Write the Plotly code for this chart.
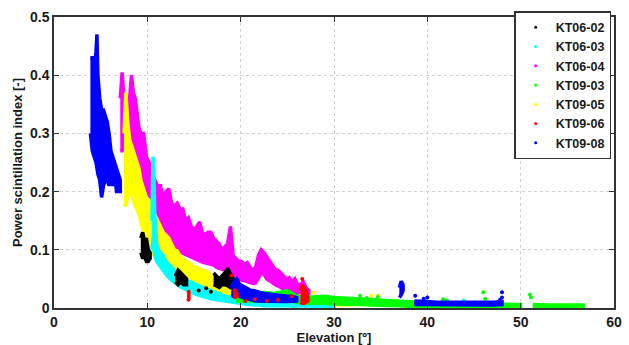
import plotly.graph_objects as go

# ---------------- data ----------------
series_names = ["KT06-02", "KT06-03", "KT06-04", "KT09-03", "KT09-05", "KT09-06", "KT09-08"]
series_colors = ["#000000", "#00FFFF", "#FF00FF", "#00FF00", "#FFFF00", "#FF0000", "#0000FF"]

# KT06-04 (magenta) dense band
kt0604_x = [7.1, 7.3, 7.5, 7.7, 7.9, 8.1, 8.3, 8.5, 8.7, 8.9, 9.1, 9.3, 9.6, 9.9, 10.2, 10.5, 10.8, 11.1, 11.4, 11.7,
            12.0, 12.3, 12.6, 12.9, 13.2, 13.5, 13.8, 14.1, 14.4, 14.7, 15.0, 15.3, 15.6, 15.9, 16.2, 16.5, 16.8, 17.1,
            17.4, 17.7, 18.0, 18.3, 18.6, 18.9, 19.2, 19.5, 19.8, 20.1, 20.4, 20.7, 21.0, 21.3, 21.6, 21.9, 22.2, 22.5,
            22.8, 23.1, 23.4, 23.7, 24.0, 24.3, 24.6, 24.9, 25.2, 25.5, 25.8, 26.1, 26.4, 26.7, 27.0, 27.3]
kt0604_hi = [0.36, 0.405, 0.36, 0.33, 0.35, 0.36, 0.40, 0.37, 0.36, 0.33, 0.31, 0.30, 0.30, 0.26, 0.25, 0.23, 0.22, 0.21,
             0.21, 0.19, 0.20, 0.205, 0.18, 0.175, 0.18, 0.17, 0.17, 0.15, 0.155, 0.14, 0.135, 0.14, 0.148, 0.13, 0.125,
             0.13, 0.13, 0.12, 0.115, 0.11, 0.10, 0.105, 0.11, 0.14, 0.09, 0.085, 0.08, 0.08, 0.075, 0.078, 0.07, 0.065,
             0.07, 0.09, 0.10, 0.095, 0.088, 0.08, 0.072, 0.066, 0.065, 0.06, 0.055, 0.05, 0.052, 0.045, 0.05, 0.04,
             0.04, 0.045, 0.035, 0.03]
kt0604_lo = [0.27, 0.27, 0.28, 0.28, 0.28, 0.27, 0.27, 0.27, 0.26, 0.25, 0.24, 0.23, 0.215, 0.20, 0.185, 0.165, 0.15,
             0.14, 0.13, 0.125, 0.12, 0.115, 0.11, 0.105, 0.10, 0.097, 0.094, 0.092, 0.09, 0.087, 0.085, 0.083, 0.081,
             0.079, 0.077, 0.076, 0.075, 0.074, 0.07, 0.068, 0.066, 0.065, 0.063, 0.06, 0.056, 0.053, 0.05, 0.048, 0.047,
             0.045, 0.044, 0.042, 0.043, 0.05, 0.06, 0.058, 0.05, 0.047, 0.044, 0.04, 0.038, 0.036, 0.033, 0.03, 0.03,
             0.027, 0.025, 0.025, 0.028, 0.03, 0.025, 0.02]

# KT09-05 (yellow) dense band
kt0905_x = [7.5, 7.7, 7.9, 8.1, 8.3, 8.5, 8.7, 8.9, 9.1, 9.3, 9.5, 9.7, 9.9, 10.2, 10.5, 10.8, 11.1, 11.4, 11.7, 12.0,
            12.3, 12.6, 12.9, 13.2, 13.5, 13.8, 14.1, 14.4, 14.7, 15.0, 15.3, 15.6, 15.9, 16.2, 16.5, 16.8, 17.1, 17.4,
            17.7, 18.0, 18.5, 19.0, 19.5, 20.0, 20.5, 21.0, 21.5, 22.0, 22.5, 23.0, 23.5, 24.0, 24.5, 25.0, 25.5, 26.0,
            26.5, 27.0, 27.5, 28.0, 28.5, 29.0, 29.5, 30.0, 30.5, 31.0, 31.5, 32.0]
kt0905_hi = [0.30, 0.37, 0.32, 0.29, 0.28, 0.27, 0.26, 0.25, 0.24, 0.22, 0.21, 0.20, 0.19, 0.185, 0.17, 0.16, 0.15, 0.14,
             0.13, 0.125, 0.12, 0.11, 0.10, 0.098, 0.09, 0.085, 0.08, 0.078, 0.075, 0.07, 0.07, 0.067, 0.065, 0.064, 0.062,
             0.055, 0.05, 0.047, 0.045, 0.042, 0.038, 0.035, 0.032, 0.03, 0.028, 0.026, 0.024, 0.022, 0.022, 0.02, 0.02,
             0.018, 0.018, 0.017, 0.017, 0.018, 0.02, 0.02, 0.018, 0.015, 0.014, 0.013, 0.013, 0.014, 0.016, 0.012,
             0.012, 0.011]
kt0905_lo = [0.18, 0.175, 0.19, 0.20, 0.195, 0.185, 0.175, 0.17, 0.16, 0.15, 0.14, 0.125, 0.11, 0.10, 0.093, 0.088, 0.082,
             0.078, 0.075, 0.07, 0.066, 0.062, 0.06, 0.058, 0.055, 0.052, 0.05, 0.048, 0.047, 0.045, 0.042, 0.04, 0.038,
             0.036, 0.034, 0.03, 0.028, 0.025, 0.022, 0.02, 0.017, 0.015, 0.013, 0.012, 0.011, 0.01, 0.009, 0.009, 0.008,
             0.008, 0.007, 0.007, 0.006, 0.006, 0.006, 0.006, 0.006, 0.005, 0.005, 0.005, 0.005, 0.005, 0.005, 0.005,
             0.005, 0.005, 0.005, 0.005]
kt0905_dots_x = [27.8, 30.6, 33.5, 34.0, 34.5, 34.7, 35.0]
kt0905_dots_y = [0.026, 0.017, 0.012, 0.021, 0.012, 0.021, 0.010]

# KT06-03 (cyan) dense band
kt0603_x = [10.5, 10.6, 10.7, 10.8, 11.0, 11.2, 11.4, 11.7, 12.0, 12.3, 12.6, 12.9, 13.2, 13.5, 13.8, 14.1, 14.4, 14.7,
            15.0, 15.3, 15.6, 15.9, 16.2, 16.5, 16.8, 17.1, 17.4, 17.7, 18.0, 18.5, 19.0, 19.5, 20.0, 20.5, 21.0, 21.5,
            22.0, 22.5, 23.0, 23.5, 24.0, 25.0, 26.0, 27.0, 28.0, 29.0, 30.0]
kt0603_hi = [0.15, 0.26, 0.23, 0.16, 0.11, 0.10, 0.095, 0.09, 0.08, 0.075, 0.07, 0.065, 0.06, 0.058, 0.052, 0.048,
             0.046, 0.045, 0.042, 0.04, 0.037, 0.035, 0.034, 0.032, 0.03, 0.028, 0.026, 0.025, 0.022, 0.02, 0.018,
             0.017, 0.016, 0.015, 0.014, 0.013, 0.012, 0.012, 0.011, 0.011, 0.01, 0.01, 0.01, 0.011, 0.01, 0.009, 0.008]
kt0603_lo = [0.10, 0.12, 0.10, 0.09, 0.08, 0.075, 0.07, 0.064, 0.058, 0.052, 0.048, 0.044, 0.04, 0.037, 0.034, 0.031,
             0.029, 0.027, 0.025, 0.023, 0.021, 0.02, 0.019, 0.018, 0.016, 0.015, 0.014, 0.013, 0.012, 0.011, 0.01,
             0.009, 0.008, 0.007, 0.006, 0.005, 0.005, 0.004, 0.004, 0.004, 0.003, 0.003, 0.003, 0.003, 0.003, 0.003,
             0.003]
kt0603_dots_x = [36.7, 43.9]
kt0603_dots_y = [0.010, 0.013]

# KT06-02 (black) clusters
kt0602_a_x = [9.3, 9.5, 9.7, 9.9, 10.1, 10.3]
kt0602_a_hi = [0.12, 0.13, 0.115, 0.12, 0.10, 0.095]
kt0602_a_lo = [0.095, 0.085, 0.09, 0.08, 0.08, 0.085]
kt0602_b_x = [13.0, 13.3, 13.6, 13.9, 14.2]
kt0602_b_hi = [0.055, 0.065, 0.06, 0.055, 0.05]
kt0602_b_lo = [0.045, 0.04, 0.045, 0.04, 0.04]
kt0602_c_x = [17.1, 17.4, 17.7, 18.0, 18.3, 18.6, 18.9, 19.2]
kt0602_c_hi = [0.06, 0.055, 0.05, 0.055, 0.06, 0.068, 0.06, 0.05]
kt0602_c_lo = [0.04, 0.038, 0.035, 0.04, 0.04, 0.038, 0.035, 0.04]
kt0602_dots_x = [15.5, 16.3, 16.8]
kt0602_dots_y = [0.030, 0.034, 0.028]

# KT09-03 (green)
kt0903_a_x = [19.5, 20.5, 21.5, 22.5, 23.5, 24.5, 25.0, 25.5, 26.0, 27.0, 28.0, 29.0, 30.0, 31.0, 32.0, 33.0, 34.0,
              35.0, 36.0, 37.0, 38.0, 39.0, 40.0, 41.0, 42.0, 43.0, 44.0, 45.0, 46.0, 47.0, 48.0, 49.0, 50.0]
kt0903_a_hi = [0.03, 0.028, 0.025, 0.027, 0.025, 0.028, 0.03, 0.025, 0.02, 0.018, 0.019, 0.02, 0.018, 0.017, 0.016,
               0.015, 0.014, 0.013, 0.012, 0.012, 0.011, 0.01, 0.01, 0.009, 0.01, 0.008, 0.008, 0.008, 0.008, 0.007,
               0.007, 0.006, 0.006]
kt0903_a_lo = [0.012, 0.012, 0.012, 0.012, 0.012, 0.012, 0.012, 0.012, 0.01, 0.008, 0.008, 0.008, 0.007, 0.007, 0.006,
               0.006, 0.005, 0.005, 0.004, 0.004, 0.003, 0.003, 0.002, 0.002, 0.002, 0.002, 0.002, 0.002, 0.002, 0.002,
               0.002, 0.002, 0.002]
kt0903_b_x = [51.3, 52.0, 53.0, 54.0, 55.0, 56.0, 56.7]
kt0903_b_hi = [0.006, 0.005, 0.005, 0.005, 0.005, 0.005, 0.005]
kt0903_b_lo = [0.002, 0.002, 0.002, 0.002, 0.002, 0.002, 0.002]
kt0903_dots_x = [32.8, 33.5, 34.7, 41.7, 42.1, 46.0, 46.2, 51.0, 51.1]
kt0903_dots_y = [0.021, 0.017, 0.019, 0.015, 0.013, 0.027, 0.016, 0.023, 0.018]

# KT09-08 (blue)
kt0908_a_x = [3.9, 4.1, 4.3, 4.5, 4.6, 4.7, 4.9, 5.1, 5.3, 5.5, 5.7, 5.9, 6.1, 6.3, 6.5, 6.7, 6.9, 7.1]
kt0908_a_hi = [0.43, 0.43, 0.41, 0.44, 0.47, 0.40, 0.36, 0.34, 0.34, 0.33, 0.32, 0.30, 0.27, 0.26, 0.25, 0.24, 0.23,
               0.22]
kt0908_a_lo = [0.30, 0.27, 0.26, 0.25, 0.24, 0.23, 0.22, 0.19, 0.21, 0.22, 0.22, 0.21, 0.22, 0.21, 0.23, 0.20, 0.20,
               0.20]
kt0908_b_x = [19.0, 19.3, 19.6, 19.9, 20.2, 20.5, 20.8, 21.1, 21.4, 21.7, 22.0, 22.5, 23.0, 23.5, 24.0, 24.5, 25.0,
              25.5, 26.0]
kt0908_b_hi = [0.035, 0.045, 0.05, 0.04, 0.038, 0.035, 0.033, 0.03, 0.03, 0.028, 0.027, 0.025, 0.024, 0.022, 0.022,
               0.021, 0.02, 0.02, 0.018]
kt0908_b_lo = [0.02, 0.022, 0.025, 0.02, 0.018, 0.016, 0.015, 0.014, 0.013, 0.012, 0.012, 0.011, 0.011, 0.011, 0.011,
               0.011, 0.011, 0.011, 0.012]
kt0908_c_x = [37.0, 37.2, 37.4]
kt0908_c_hi = [0.035, 0.046, 0.04]
kt0908_c_lo = [0.018, 0.022, 0.03]
kt0908_d_x = [38.6, 39.0, 40.0, 41.0, 42.0, 43.0, 44.0, 45.0, 46.0, 47.0, 48.0]
kt0908_d_hi = [0.012, 0.012, 0.011, 0.010, 0.010, 0.010, 0.010, 0.010, 0.009, 0.010, 0.011]
kt0908_d_lo = [0.006, 0.006, 0.005, 0.005, 0.005, 0.005, 0.005, 0.005, 0.005, 0.005, 0.006]
kt0908_dots_x = [38.7, 39.6, 40.0, 47.8, 48.0, 48.0]
kt0908_dots_y = [0.021, 0.016, 0.018, 0.014, 0.018, 0.027]

# KT09-06 (red)
kt0906_a_x = [14.3, 14.45]
kt0906_a_hi = [0.03, 0.028]
kt0906_a_lo = [0.012, 0.015]
kt0906_b_x = [19.2, 19.4, 19.6]
kt0906_b_hi = [0.032, 0.03, 0.025]
kt0906_b_lo = [0.02, 0.018, 0.02]
kt0906_c_x = [26.4, 26.6, 26.8, 27.0, 27.2]
kt0906_c_hi = [0.03, 0.04, 0.035, 0.03, 0.02]
kt0906_c_lo = [0.01, 0.008, 0.008, 0.01, 0.012]
kt0906_dots_x = [19.0, 20.5, 21.5, 22.8, 24.0, 25.5, 26.6]
kt0906_dots_y = [0.056, 0.012, 0.015, 0.012, 0.014, 0.020, 0.050]

x_ticks = [0, 10, 20, 30, 40, 50, 60]
x_tick_labels = ["0", "10", "20", "30", "40", "50", "60"]
y_ticks = [0, 0.1, 0.2, 0.3, 0.4, 0.5]
y_tick_labels = ["0", "0.1", "0.2", "0.3", "0.4", "0.5"]

# ---------------- figure ----------------
fig = go.Figure()


def add_band(x, hi, lo, color):
    xs = list(x) + list(x)[::-1]
    ys = list(hi) + list(lo)[::-1]
    fig.add_trace(go.Scatter(x=xs, y=ys, mode="lines", fill="toself", fillcolor=color,
                             line=dict(color=color, width=3.5, shape="linear"), showlegend=False,
                             hoverinfo="skip", cliponaxis=True))


def add_dots(x, y, color):
    fig.add_trace(go.Scatter(x=x, y=y, mode="markers", marker=dict(color=color, size=4),
                             showlegend=False, hoverinfo="skip"))


c = dict(zip(series_names, series_colors))
add_band(kt0604_x, kt0604_hi, kt0604_lo, c["KT06-04"])
add_band(kt0905_x, kt0905_hi, kt0905_lo, c["KT09-05"])
add_dots(kt0905_dots_x, kt0905_dots_y, c["KT09-05"])
add_band(kt0603_x, kt0603_hi, kt0603_lo, c["KT06-03"])
add_dots(kt0603_dots_x, kt0603_dots_y, c["KT06-03"])
add_band(kt0602_a_x, kt0602_a_hi, kt0602_a_lo, c["KT06-02"])
add_band(kt0602_b_x, kt0602_b_hi, kt0602_b_lo, c["KT06-02"])
add_band(kt0602_c_x, kt0602_c_hi, kt0602_c_lo, c["KT06-02"])
add_dots(kt0602_dots_x, kt0602_dots_y, c["KT06-02"])
add_band(kt0903_a_x, kt0903_a_hi, kt0903_a_lo, c["KT09-03"])
add_band(kt0903_b_x, kt0903_b_hi, kt0903_b_lo, c["KT09-03"])
add_dots(kt0903_dots_x, kt0903_dots_y, c["KT09-03"])
add_band(kt0908_a_x, kt0908_a_hi, kt0908_a_lo, c["KT09-08"])
add_band(kt0908_b_x, kt0908_b_hi, kt0908_b_lo, c["KT09-08"])
add_band(kt0908_c_x, kt0908_c_hi, kt0908_c_lo, c["KT09-08"])
add_band(kt0908_d_x, kt0908_d_hi, kt0908_d_lo, c["KT09-08"])
add_dots(kt0908_dots_x, kt0908_dots_y, c["KT09-08"])
add_band(kt0906_a_x, kt0906_a_hi, kt0906_a_lo, c["KT09-06"])
add_band(kt0906_b_x, kt0906_b_hi, kt0906_b_lo, c["KT09-06"])
add_band(kt0906_c_x, kt0906_c_hi, kt0906_c_lo, c["KT09-06"])
add_dots(kt0906_dots_x, kt0906_dots_y, c["KT09-06"])

# legend entries (in the reference order)
for name, col in zip(series_names, series_colors):
    fig.add_trace(go.Scatter(x=[None], y=[None], mode="markers", name="<b>" + name + "</b>",
                             marker=dict(color=col, size=3)))

font_family = "Liberation Sans, Arial, sans-serif"
axis_common = dict(
    showline=True, linecolor="#333333", linewidth=1.5, mirror="ticks",
    ticks="inside", ticklen=5, tickcolor="#333333", tickwidth=1,
    showgrid=True, gridcolor="#d2d2d2", griddash="dot", gridwidth=1,
    zeroline=False, automargin=False,
    tickfont=dict(family=font_family, size=14, color="#1a1a1a"),
)

fig.update_layout(
    width=629, height=345,
    margin=dict(l=54, r=15, t=11, b=37),
    paper_bgcolor="white", plot_bgcolor="white",
    font=dict(family=font_family, color="#222222"),
    xaxis=dict(range=[0, 60], tickvals=x_ticks, ticktext=["<b>" + t + "</b>" for t in x_tick_labels],
               **axis_common,
               title=dict(text="<b>Elevation [º]</b>", standoff=0,
                          font=dict(family=font_family, size=13, color="#1a1a1a"))),
    yaxis=dict(range=[0, 0.5], tickvals=y_ticks, ticktext=["<b>" + t + "</b>" for t in y_tick_labels],
               **axis_common,
               title=dict(text="<b>Power scintillation index [-]</b>", standoff=4,
                          font=dict(family=font_family, size=13, color="#1a1a1a"))),
    legend=dict(x=0.995, y=1.02, xanchor="right", yanchor="top",
                bgcolor="white", bordercolor="#333333", borderwidth=1.5,
                font=dict(family=font_family, size=12.5, color="#1a1a1a"),
                itemwidth=30, tracegroupgap=0),
    showlegend=True,
)

fig.write_html("out.html")
